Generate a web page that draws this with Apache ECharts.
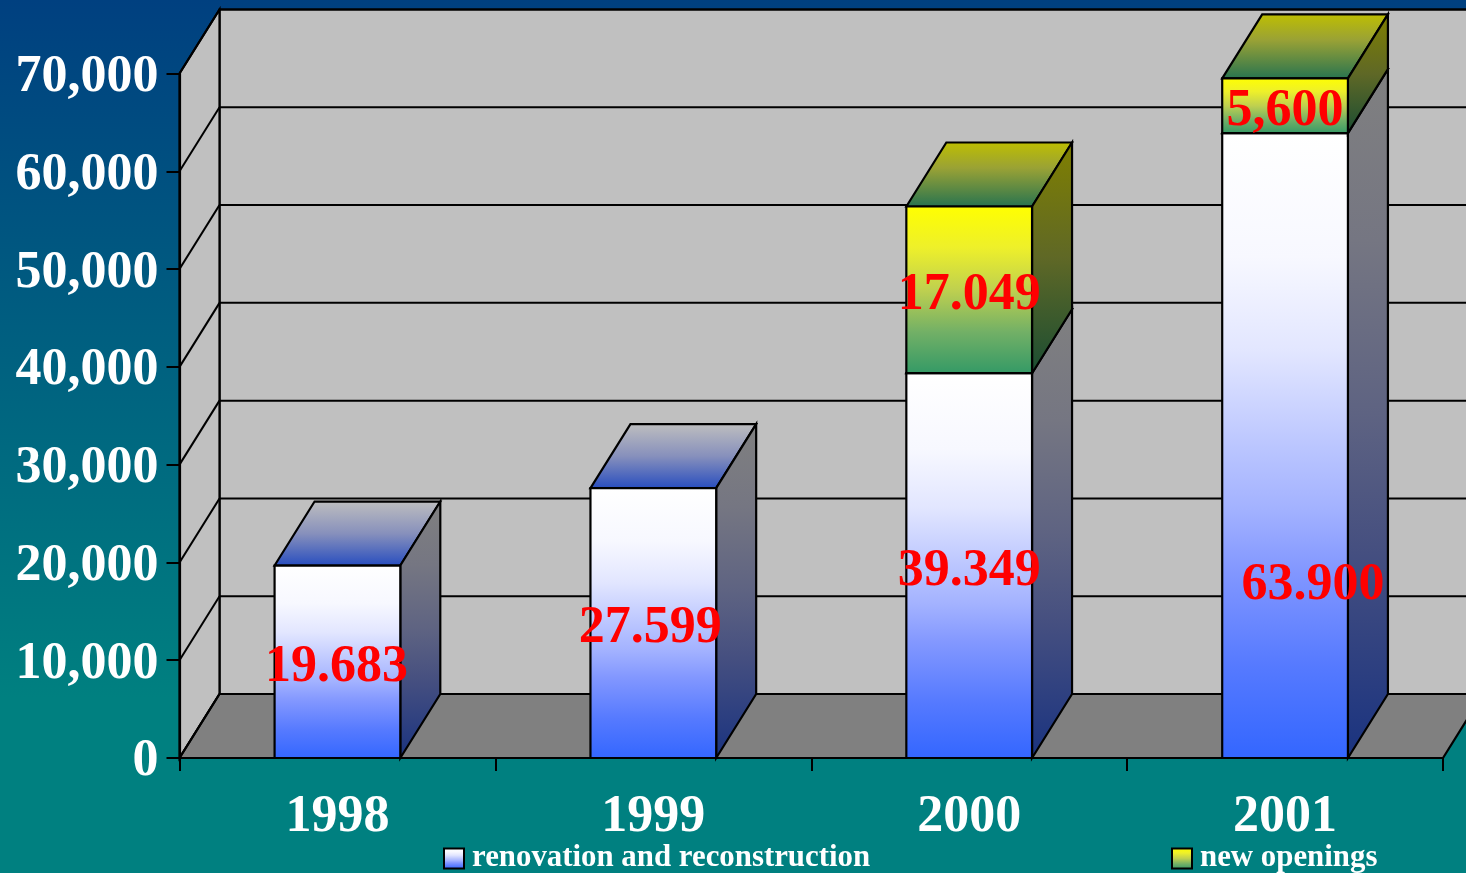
<!DOCTYPE html>
<html>
<head>
<meta charset="utf-8">
<style>html,body{margin:0;padding:0;background:#008080}#c{width:1466px;height:873px}</style>
<script src="https://cdn.jsdelivr.net/npm/echarts@6/dist/echarts.min.js"></script>
</head>
<body>
<div id="c"></div>
<script>
const categories = ['1998', '1999', '2000', '2001'];
const renovation = [19683, 27599, 39349, 63900];
const openings = [0, 0, 17049, 5600];
const renovationLabels = ['19.683', '27.599', '39.349', '63.900'];
const openingLabels = ['', '', '17.049', '5,600'];
const yTicks = [0, 10000, 20000, 30000, 40000, 50000, 60000, 70000];
const yTickLabels = ['0', '10,000', '20,000', '30,000', '40,000', '50,000', '60,000', '70,000'];
const seriesNames = ['renovation and reconstruction', 'new openings'];

const DX = 40, DY = -64;
const SERIF = '"Liberation Serif","Times New Roman",serif';
const grad = (...pairs) => ({type: 'linear', x: 0, y: 0, x2: 0, y2: 1,
  colorStops: pairs.map(p => ({offset: p[0], color: p[1]}))});
const poly = (points, fill, lw) => ({type: 'polygon', shape: {points}, style: {fill, stroke: '#000', lineWidth: lw === undefined ? 2.2 : lw}});
const seg = (x1, y1, x2, y2, lw) => ({type: 'line', shape: {x1, y1, x2, y2}, style: {stroke: '#000', lineWidth: lw || 2, fill: null}});

function renderWall(params, api) {
  const right = params.coordSys.x + params.coordSys.width;
  const left = params.coordSys.x;
  const y = api.coord([0, api.value(0)])[1];
  const kids = [];
  if (params.dataIndex === 0) {
    const top = api.coord([0, yTicks[yTicks.length - 1]])[1];
    kids.push(poly([[left + DX, top + DY], [right + DX, top + DY], [right + DX, y + DY], [left + DX, y + DY]], '#C0C0C0', 2.2));
    kids.push(poly([[left, top], [left + DX, top + DY], [left + DX, y + DY], [left, y]], '#C0C0C0', 2.2));
    kids.push(poly([[left, y], [left + DX, y + DY], [right + DX, y + DY], [right, y]], '#808080', 2.2));
  }
  kids.push(seg(left, y, left + DX, y + DY));
  kids.push(seg(left + DX, y + DY, right + DX, y + DY));
  return {type: 'group', children: kids};
}

function makeRender(front, side, topFace, labels, labelShift) {
  return function (params, api) {
    const i = api.value(0), lo = api.value(1), hi = api.value(2);
    if (hi <= lo) return null;
    const w = api.size([1, 0])[0] * 0.398;
    const pLo = api.coord([i, lo]), pHi = api.coord([i, hi]);
    const x0 = pLo[0] - w / 2, x1 = pLo[0] + w / 2, yb = pLo[1], yt = pHi[1];
    const shift = labelShift[i] || [0, 0];
    return {type: 'group', children: [
      poly([[x0, yt], [x0 + DX, yt + DY], [x1 + DX, yt + DY], [x1, yt]], topFace),
      poly([[x1, yb], [x1 + DX, yb + DY], [x1 + DX, yt + DY], [x1, yt]], side),
      poly([[x0, yb], [x1, yb], [x1, yt], [x0, yt]], front),
      {type: 'text', z2: 50, style: {
        x: pLo[0] + shift[0], y: (yb + yt) / 2 + 6 + shift[1], text: labels[i],
        fill: '#FF0000', font: 'bold 52px ' + SERIF, textAlign: 'center', textVerticalAlign: 'middle'
      }}
    ]};
  };
}

const blueFront = grad([0, '#FFFFFF'], [0.2, '#F7F8FF'], [0.35, '#E2E6FF'], [0.5, '#BBC6FF'], [0.6, '#A3B2FF'], [0.7, '#8297FF'], [0.85, '#567AFF'], [1, '#3366FF']);
const blueSide = grad([0, '#808080'], [0.25, '#757682'], [0.5, '#5E6382'], [0.7, '#454F80'], [1, '#1A3380']);
const blueTop = grad([0, '#BFBFBF'], [0.5, '#8790BC'], [1, '#264CBF']);
const greenFront = grad([0, '#FFFF00'], [0.25, '#EEF02A'], [0.5, '#BFD04F'], [0.75, '#72B066'], [1, '#339966']);
const greenSide = grad([0, '#808000'], [0.5, '#5F6826'], [1, '#1A4D33']);
const greenTop = grad([0, '#BFBF00'], [0.4, '#9AA235'], [1, '#267350']);
const base = renovation.slice();

const chart = echarts.init(document.getElementById('c'), null, {renderer: 'canvas', width: 1466, height: 873});
chart.setOption({
  animation: false,
  backgroundColor: {type: 'linear', x: 0, y: 0, x2: 0, y2: 1, colorStops: [
    {offset: 0, color: '#004080'}, {offset: 0.8, color: '#008080'}, {offset: 1, color: '#008080'}]},
  grid: {left: 179.5, top: 73.5, width: 1263.5, height: 684.5, containLabel: false},
  xAxis: {
    type: 'category', data: categories, z: 20,
    axisLine: {show: true, lineStyle: {color: '#000', width: 2.2}},
    axisTick: {show: true, length: 13, alignWithLabel: false, lineStyle: {color: '#000', width: 2}},
    axisLabel: {color: '#fff', fontFamily: SERIF, fontWeight: 'bold', fontSize: 52, margin: 34}
  },
  yAxis: {
    type: 'value', min: 0, max: 70000, interval: 10000, z: 20,
    axisLine: {show: true, lineStyle: {color: '#000', width: 2.2}},
    axisTick: {show: true, length: 13, lineStyle: {color: '#000', width: 2}},
    splitLine: {show: false},
    axisLabel: {color: '#fff', fontFamily: SERIF, fontWeight: 'bold', fontSize: 52, margin: 21,
      verticalAlign: 'top', lineHeight: 8,
      formatter: (v, idx) => yTickLabels[idx]}
  },
  legend: [
    {left: 443, top: 843, padding: 0, itemWidth: 20, itemHeight: 20, selectedMode: false,
     textStyle: {color: '#fff', fontFamily: SERIF, fontWeight: 'bold', fontSize: 30.85, padding: [0, 0, 0, 3]},
     data: [{name: seriesNames[0], icon: 'rect', itemStyle: {color: blueFront, borderColor: '#000', borderWidth: 2}}]},
    {left: 1171, top: 843, padding: 0, itemWidth: 20, itemHeight: 20, selectedMode: false,
     textStyle: {color: '#fff', fontFamily: SERIF, fontWeight: 'bold', fontSize: 30.85, padding: [0, 0, 0, 3]},
     data: [{name: seriesNames[1], icon: 'rect', itemStyle: {color: greenFront, borderColor: '#000', borderWidth: 2}}]}
  ],
  series: [
    {type: 'custom', name: 'walls', silent: true, z: 1, renderItem: renderWall,
     encode: {y: 0}, data: yTicks.map(v => [v])},
    {type: 'custom', name: seriesNames[0], silent: true, z: 2,
     itemStyle: {color: blueFront},
     renderItem: makeRender(blueFront, blueSide, blueTop, renovationLabels, {0: [-1, 0], 1: [-3, 0], 3: [28, 134]}),
     encode: {x: 0, y: [1, 2]},
     data: renovation.map((v, i) => [i, 0, v])},
    {type: 'custom', name: seriesNames[1], silent: true, z: 3,
     itemStyle: {color: greenFront},
     renderItem: makeRender(greenFront, greenSide, greenTop, openingLabels, {}),
     encode: {x: 0, y: [1, 2]},
     data: openings.map((v, i) => [i, base[i], base[i] + v])}
  ]
});
</script>
</body>
</html>
